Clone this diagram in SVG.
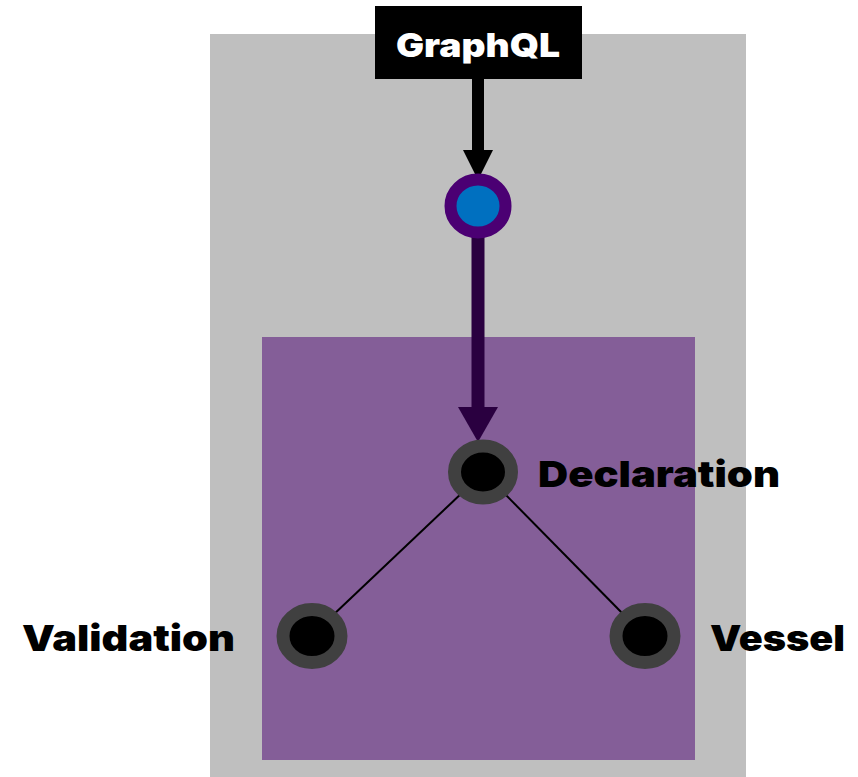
<svg xmlns="http://www.w3.org/2000/svg" width="858" height="777" viewBox="0 0 858 777">
<style>
.lbl{font-family:"Inter","Liberation Sans",sans-serif;font-weight:900;font-size:36px;fill:#000}
.ring{fill:#000;stroke:#404040;stroke-width:13}
.edge{stroke:#000;stroke-width:2;fill:none}
</style>
<rect width="858" height="777" fill="#fff"/>
<g id="outer"><rect x="210" y="34" width="536" height="743" fill="#bfbfbf"/></g>
<g id="inner"><rect x="262" y="337" width="433" height="423" fill="#845e98"/></g>
<g id="connectors">
<line x1="478" y1="78" x2="478" y2="152" stroke="#000" stroke-width="12"/>
<polygon points="463,150 493,150 478,180" fill="#000"/>
<line x1="478" y1="234" x2="478" y2="410" stroke="#2a0040" stroke-width="13"/>
<polygon points="458,407 498,407 478,442" fill="#2a0040"/>
<line class="edge" x1="464" y1="491" x2="331" y2="617"/>
<line class="edge" x1="502" y1="491" x2="626" y2="617"/>
</g>
<g id="graphql">
<rect x="375" y="6" width="207" height="73" fill="#000"/>
<text x="396" y="57" textLength="164" lengthAdjust="spacingAndGlyphs" font-family="Inter,'Liberation Sans',sans-serif" font-weight="900" font-size="33" fill="#fff">GraphQL</text>
</g>
<g id="hub"><ellipse cx="478" cy="206" rx="27.5" ry="26.5" fill="#0070c0" stroke="#4b0073" stroke-width="12"/></g>
<g id="declaration"><ellipse class="ring" cx="483" cy="472" rx="28.5" ry="26"/><text class="lbl" x="538" y="487" textLength="242" lengthAdjust="spacingAndGlyphs">Declaration</text></g>
<g id="validation"><ellipse class="ring" cx="312" cy="636" rx="29" ry="26.5"/><text class="lbl" x="22" y="651" textLength="213" lengthAdjust="spacingAndGlyphs">Validation</text></g>
<g id="vessel"><ellipse class="ring" cx="645" cy="636" rx="29" ry="26.5"/><text class="lbl" x="710" y="651" textLength="135" lengthAdjust="spacingAndGlyphs">Vessel</text></g>
</svg>
